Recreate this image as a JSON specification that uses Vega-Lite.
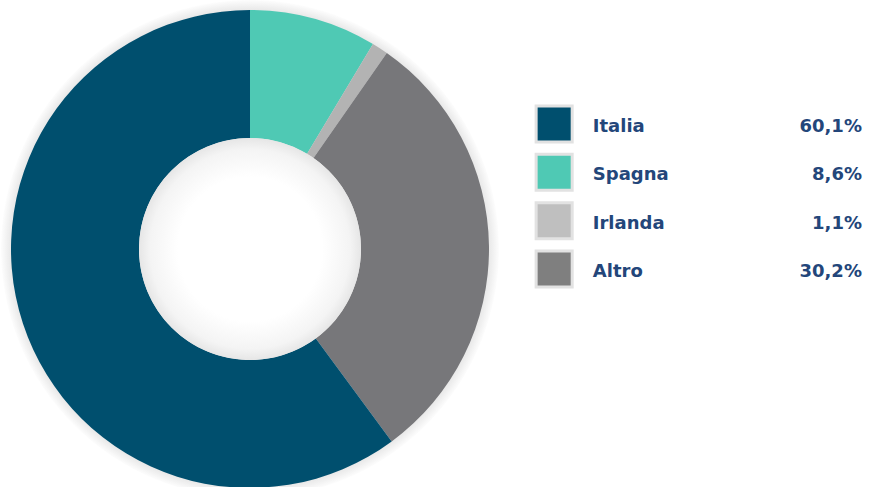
{
  "$schema": "https://vega.github.io/schema/vega-lite/v6.json",
  "padding": 0,
  "spacing": 30,
  "background": "white",
  "config": {"view": {"stroke": null}},
  "datasets": {
    "shares": [
      {"cat": "Spagna", "val": 8.6, "ord": 1, "label": "8,6%"},
      {"cat": "Irlanda", "val": 1.1, "ord": 2, "label": "1,1%"},
      {"cat": "Altro", "val": 30.2, "ord": 3, "label": "30,2%"},
      {"cat": "Italia", "val": 60.1, "ord": 4, "label": "60,1%"}
    ],
    "ring": [{"v": 1}]
  },
  "hconcat": [
    {
      "width": 500,
      "height": 498,
      "layer": [
        {
          "data": {"name": "ring"},
          "mark": {
            "type": "point", "shape": "circle", "size": 248000, "filled": true, "opacity": 1, "strokeWidth": 0,
            "fill": {"gradient": "radial", "x1": 0.5, "y1": 0.5, "r1": 0, "x2": 0.5, "y2": 0.5, "r2": 0.5,
              "stops": [{"offset": 0.955, "color": "#e6e6e6"}, {"offset": 0.975, "color": "#f0f0f0"}, {"offset": 1, "color": "#fdfdfd"}]}
          },
          "encoding": {}
        },
        {
          "data": {"name": "shares"},
          "mark": {"type": "arc", "radius": 239, "radius2": 111},
          "encoding": {
            "theta": {"field": "val", "type": "quantitative", "stack": true},
            "order": {"field": "ord", "type": "quantitative"},
            "color": {
              "field": "cat",
              "type": "nominal",
              "scale": {"domain": ["Italia", "Spagna", "Irlanda", "Altro"], "range": ["#004f6e", "#4fc9b4", "#b3b3b3", "#77777a"]},
              "legend": null
            }
          }
        },
        {
          "data": {"name": "ring"},
          "mark": {
            "type": "point", "shape": "circle", "size": 49284, "filled": true, "opacity": 1, "strokeWidth": 0,
            "fill": {"gradient": "radial", "x1": 0.5, "y1": 0.5, "r1": 0, "x2": 0.5, "y2": 0.5, "r2": 0.5,
              "stops": [{"offset": 0, "color": "#ffffff"}, {"offset": 0.65, "color": "#ffffff"}, {"offset": 0.9, "color": "#f4f4f4"}, {"offset": 1, "color": "#e6e6e6"}]}
          },
          "encoding": {}
        }
      ]
    },
    {
      "width": 336,
      "height": 498,
      "data": {"name": "shares"},
      "encoding": {
        "y": {
          "field": "cat",
          "type": "nominal",
          "scale": {"type": "point", "padding": 0, "domain": ["Italia", "Spagna", "Irlanda", "Altro"], "range": [124, 269]},
          "axis": null
        }
      },
      "layer": [
        {
          "mark": {"type": "point", "shape": "square", "size": 1300, "filled": true, "stroke": "#e2e2e2", "strokeWidth": 3, "opacity": 1},
          "encoding": {
            "x": {"datum": 6, "type": "quantitative", "scale": {"domain": [0, 100], "range": [0, 336]}, "axis": null},
            "fill": {
              "field": "cat",
              "type": "nominal",
              "scale": {"domain": ["Italia", "Spagna", "Irlanda", "Altro"], "range": ["#004f6e", "#4fc9b4", "#bfbfbf", "#7f7f7f"]},
              "legend": null
            }
          }
        },
        {
          "mark": {"type": "text", "align": "left", "baseline": "middle", "font": "DejaVu Sans", "fontWeight": "bold", "fontSize": 18, "color": "#23467a", "dy": 3},
          "encoding": {
            "x": {"datum": 17.5, "type": "quantitative"},
            "text": {"field": "cat"}
          }
        },
        {
          "mark": {"type": "text", "align": "right", "baseline": "middle", "font": "DejaVu Sans", "fontWeight": "bold", "fontSize": 18, "color": "#23467a", "dy": 3},
          "encoding": {
            "x": {"datum": 97.6, "type": "quantitative"},
            "text": {"field": "label"}
          }
        }
      ]
    }
  ]
}
